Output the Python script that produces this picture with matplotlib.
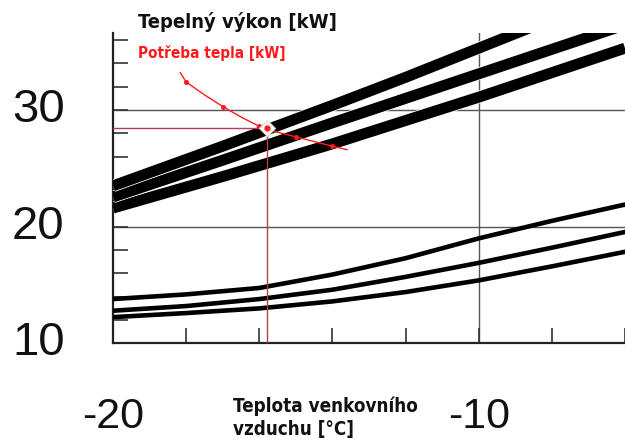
import matplotlib
matplotlib.use("Agg")
import matplotlib.pyplot as plt
import matplotlib.patheffects as pe
from matplotlib import font_manager
import numpy as np

# teplota venkovniho vzduchu [°C]
t_up = [-20, -17, -14, -12, -10, -8, -6]
vykon_1 = [23.5, 26.9, 30.4, 32.8, 35.3, 37.8, 40.2]
vykon_2 = [22.55, 25.7, 28.9, 31.0, 33.1, 35.2, 37.3]
vykon_3 = [21.6, 24.3, 27.1, 29.1, 31.1, 33.2, 35.3]

t_low = [-20, -18, -16, -14, -12, -10, -8, -6]
nizky_1 = [13.8, 14.2, 14.75, 15.9, 17.3, 19.0, 20.5, 21.9]
nizky_2 = [12.8, 13.2, 13.8, 14.6, 15.7, 16.9, 18.2, 19.55]
nizky_3 = [12.25, 12.6, 13.0, 13.6, 14.4, 15.4, 16.6, 17.85]

# potreba tepla
t_potreba = [-18.16, -18.0, -17.5, -17.0, -16.5, -16.0, -15.5, -15.0, -14.0, -13.6]
potreba = [33.2, 32.4, 31.3, 30.3, 29.4, 28.6, 28.1, 27.7, 26.9, 26.6]
t_body = [-18.0, -17.0, -16.0, -15.0, -14.0]
p_body = [32.4, 30.3, 28.6, 27.7, 26.9]

# bod bivalence
bod_t, bod_p = -15.8, 28.45

names = {f.name for f in font_manager.fontManager.ttflist}
narrow = 'Liberation Sans Narrow' if 'Liberation Sans Narrow' in names else 'DejaVu Sans'
nadpis_font = [narrow, 'DejaVu Sans']

fig = plt.figure(figsize=(6.25, 4.45), dpi=100)
ax = fig.add_axes([113 / 625, 1 - 343.4 / 445, 512 / 625, (343.4 - 33) / 445])
ax.set_xlim(-20, -6)
ax.set_ylim(10, 36.6)

# mrizka
for y in (20, 30):
    ax.axhline(y, color='#555555', lw=1.0, zorder=1)
ax.axvline(-10, color='#555555', lw=1.0, zorder=1)

# horni svazek - tepelny vykon
for v in (vykon_3, vykon_2, vykon_1):
    ax.plot(t_up, v, color='black', lw=7.9, solid_capstyle='butt', zorder=3,
            path_effects=[pe.withStroke(linewidth=9.0, foreground='white')])

# dolni svazek
for v in (nizky_1, nizky_2, nizky_3):
    ax.plot(t_low, v, color='black', lw=3.3, zorder=3)

# krivka potreby tepla
ax.plot(t_potreba, potreba, color='#ff1a1a', lw=1.0, zorder=5)
ax.plot(t_body, p_body, 'o', color='#ff1a1a', ms=2.6, zorder=5)

# odecitaci cary
ax.plot([-20, bod_t], [bod_p, bod_p], color='#b04050', lw=1.0, zorder=4)
ax.plot([bod_t, bod_t], [10, bod_p], color='#b04050', lw=1.0, zorder=4)
ax.plot(bod_t, bod_p, 'D', ms=8, mfc='white', mec='#dddddd', mew=0.8, zorder=6)
ax.plot(bod_t, bod_p, 'o', ms=3.5, color='#ff1a1a', zorder=7)

# osy
for s in ('top', 'right'):
    ax.spines[s].set_visible(False)
for s in ('left', 'bottom'):
    ax.spines[s].set_linewidth(1.6)
    ax.spines[s].set_color('#222222')

ax.set_yticks(np.arange(12, 37, 2))
ax.set_xticks(np.arange(-20, -5, 2))
ax.tick_params(axis='both', direction='in', length=11, width=1.2,
               color='#333333', labelleft=False, labelbottom=False)

for val in (10, 20, 30):
    ax.text(-21.32, val, str(val), ha='right', va='center', clip_on=False,
            fontsize=34, family='Liberation Sans', color='#111111')
for val in (-20, -10):
    ax.text(val, 10 - 6.3, str(val), ha='center', va='center', fontsize=31,
            family='Liberation Sans', color='#111111', clip_on=False)

fig.text(138 / 625, 1 - 22 / 445, 'Tepelný výkon [kW]', fontsize=14.5,
         fontweight='bold', family=nadpis_font, fontstretch='condensed',
         color='#111111', ha='left', va='center')
fig.text(138 / 625, 1 - 53 / 445, 'Potřeba tepla [kW]', fontsize=11,
         fontweight='bold', family=nadpis_font, fontstretch='condensed',
         color='#ff1a1a', ha='left', va='center')
fig.text(233 / 625, 1 - 418 / 445, 'Teplota venkovního\nvzduchu [°C]',
         fontsize=13.5, fontweight='bold', family=nadpis_font,
         fontstretch='condensed', color='#111111',
         ha='left', va='center', linespacing=1.3)

fig.savefig('out.png', dpi=100)
